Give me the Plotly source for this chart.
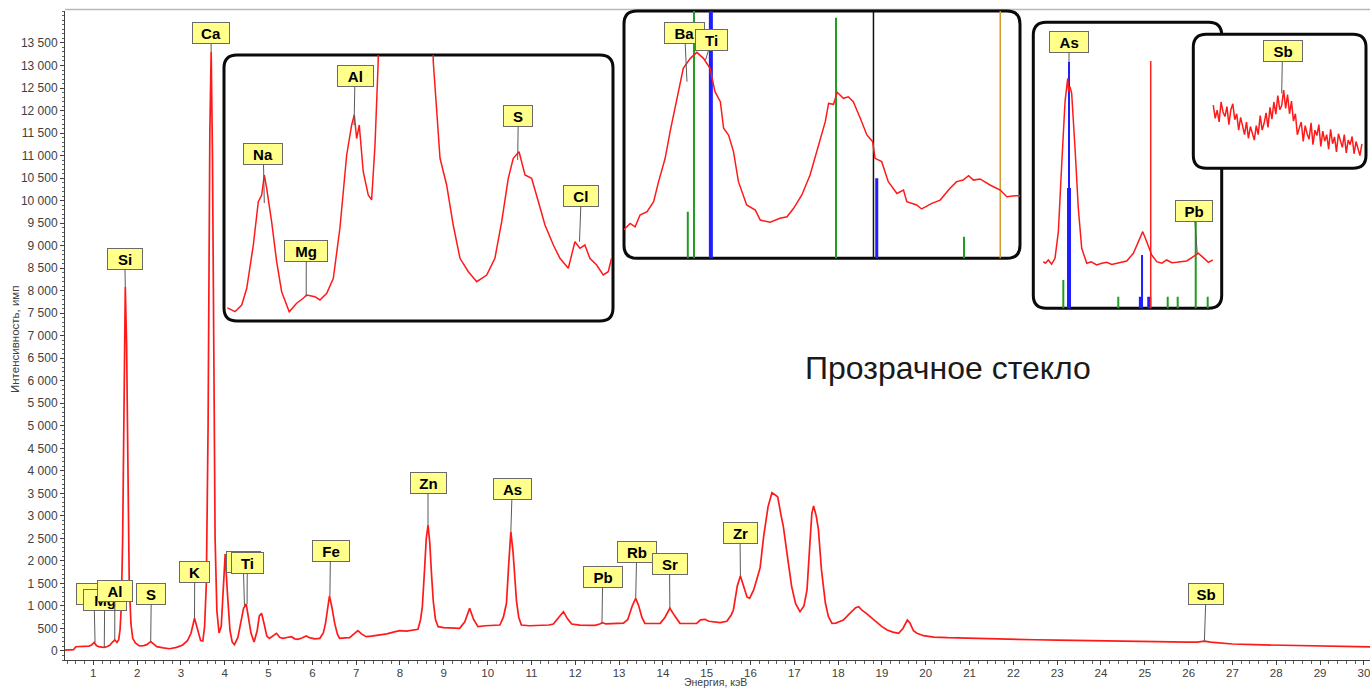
import plotly.graph_objects as go

# ---------------- DATA ----------------
MAIN_E = [0.354, 0.45, 0.55, 0.60, 0.70, 0.80, 0.90, 0.96, 1.02, 1.07, 1.12, 1.20, 1.25, 1.32, 1.38, 1.44,
          1.49, 1.54, 1.58, 1.61, 1.64, 1.67, 1.70, 1.73, 1.76, 1.79, 1.82, 1.86, 1.90, 1.96, 2.05, 2.15,
          2.22, 2.31, 2.38, 2.45, 2.60, 2.74, 2.90, 3.04, 3.15, 3.23, 3.31, 3.38, 3.45, 3.50, 3.54, 3.58,
          3.62, 3.66, 3.69, 3.72, 3.75, 3.78, 3.82, 3.87, 3.92, 3.96, 4.01, 4.06, 4.12, 4.17, 4.22, 4.30,
          4.37, 4.43, 4.49, 4.55, 4.60, 4.67, 4.74, 4.79, 4.84, 4.90, 4.96, 5.02, 5.10, 5.18, 5.26, 5.33,
          5.42, 5.52, 5.60, 5.67, 5.76, 5.86, 5.95, 6.06, 6.17, 6.25, 6.30, 6.35, 6.39, 6.44, 6.51, 6.57,
          6.62, 6.75, 6.85, 6.95, 7.04, 7.12, 7.23, 7.35, 7.54, 7.70, 7.85, 7.99, 8.15, 8.30, 8.41, 8.47,
          8.51, 8.56, 8.60, 8.64, 8.68, 8.72, 8.76, 8.81, 8.87, 9.00, 9.20, 9.36, 9.48, 9.59, 9.68, 9.78,
          9.95, 10.15, 10.28, 10.36, 10.43, 10.48, 10.53, 10.58, 10.62, 10.66, 10.71, 10.77, 10.95, 11.20,
          11.40, 11.50, 11.60, 11.73, 11.82, 11.92, 12.10, 12.30, 12.45, 12.56, 12.62, 12.70, 12.90, 13.10,
          13.20, 13.30, 13.38, 13.45, 13.52, 13.59, 13.80, 13.94, 14.05, 14.16, 14.27, 14.39, 14.60, 14.77,
          14.86, 14.96, 15.05, 15.20, 15.31, 15.46, 15.56, 15.61, 15.70, 15.77, 15.84, 15.92, 15.98, 16.07,
          16.14, 16.22, 16.30, 16.40, 16.49, 16.55, 16.62, 16.70, 16.75, 16.85, 16.94, 17.03, 17.13, 17.22,
          17.29, 17.35, 17.40, 17.44, 17.50, 17.55, 17.62, 17.71, 17.78, 17.86, 17.95, 18.05, 18.12, 18.25,
          18.40, 18.47, 18.55, 18.65, 18.73, 18.85, 19.00, 19.12, 19.25, 19.38, 19.48, 19.58, 19.64, 19.72,
          19.80, 19.95, 20.18, 20.50, 21.00, 21.50, 22.00, 22.50, 23.00, 23.50, 24.00, 24.50, 25.00, 25.50,
          26.00, 26.20, 26.36, 26.50, 26.80, 27.00, 27.50, 28.00, 28.50, 29.00, 29.50, 30.14]
MAIN_C = [20, 25, 30, 95, 100, 105, 110, 130, 193, 120, 96, 85, 81, 100, 133, 200,
          244, 190, 250, 466, 1000, 2500, 5600, 8080, 6800, 3600, 1500, 600, 281, 180, 111, 120,
          140, 207, 140, 96, 70, 50, 80, 133, 230, 393, 726, 450, 230, 220, 540, 1500,
          5000, 11500, 13300, 11000, 6000, 2500, 900, 400, 550, 1300, 2150, 1300, 450, 200, 140, 300,
          650, 950, 1043, 700, 393, 200, 450, 780, 837, 600, 330, 280, 330, 393, 300, 281,
          300, 318, 270, 259, 290, 333, 290, 270, 281, 400, 614, 1000, 1221, 1000, 614, 380,
          281, 290, 296, 380, 451, 380, 318, 330, 355, 380, 420, 451, 440, 470, 481, 700,
          984, 1800, 2500, 2797, 2400, 1700, 1100, 700, 540, 520, 510, 503, 650, 948, 700, 540,
          560, 570, 577, 750, 1059, 1900, 2649, 2200, 1500, 1100, 750, 577, 560, 570,
          577, 600, 720, 873, 720, 600, 575, 565, 570, 600, 629, 600, 605, 620,
          700, 1000, 1170, 1000, 750, 614, 610, 614, 750, 948, 780, 614, 610, 614,
          690, 704, 660, 640, 629, 660, 800, 910, 1450, 1665, 1450, 1200, 1170, 1350,
          1576, 1850, 2540, 3200, 3515, 3480, 3426, 3000, 2760, 2050, 1430, 1050, 873, 1000,
          1354, 2300, 3050, 3220, 3000, 2700, 1800, 1059, 760, 615, 620, 660, 688, 820,
          960, 984, 900, 830, 762, 650, 540, 466, 420, 393, 500, 688, 620, 450,
          393, 340, 310, 295, 280, 270, 260, 250, 240, 230, 220, 212, 205, 200,
          195, 195, 220, 195, 165, 155, 140, 130, 120, 110, 100, 90]

INS1_E = [0.855, 0.893, 0.927, 0.952, 0.985, 1.01, 1.027, 1.04, 1.052, 1.077, 1.102, 1.127, 1.165, 1.202,
          1.235, 1.252, 1.294, 1.319, 1.353, 1.386, 1.419, 1.453, 1.478, 1.491, 1.503, 1.516, 1.536, 1.561,
          1.578, 1.595, 1.611, 1.64, 1.74, 1.86, 1.887, 1.921, 1.954, 1.987, 2.021, 2.063, 2.105, 2.155,
          2.196, 2.23, 2.263, 2.288, 2.317, 2.347, 2.38, 2.414, 2.447, 2.489, 2.522, 2.564, 2.597, 2.622,
          2.647, 2.672, 2.706, 2.739, 2.764, 2.781]
INS1_C = [80, 76.8, 82.5, 96.7, 133.5, 170.3, 176, 193, 181.7, 153, 119.3, 93.8, 76.8, 84,
          88.2, 91, 89.6, 86.8, 92.4, 105.2, 147.7, 210, 235.5, 244, 224, 235.5, 195.8, 176,
          171.8, 218.5, 289.3, 1000, 8080, 1000, 289.3, 207.2, 184.5, 150.5, 122.2, 110.8, 102.3, 108,
          122.2, 153.3, 190.2, 207.2, 212.8, 193, 190.2, 170.3, 150.5, 133.5, 122.2, 113.7, 136.3, 130.7,
          133.5, 122.2, 116.5, 108, 110.8, 122.2]

INS2_E = [4.312, 4.328, 4.34, 4.352, 4.369, 4.385, 4.397, 4.413, 4.425, 4.441, 4.457, 4.474, 4.49, 4.506,
          4.522, 4.534, 4.547, 4.555, 4.567, 4.579, 4.591, 4.611, 4.632, 4.644, 4.668, 4.692, 4.709, 4.725,
          4.745, 4.765, 4.785, 4.802, 4.81, 4.822, 4.831, 4.846, 4.858, 4.87, 4.887, 4.903, 4.917, 4.923,
          4.939, 4.955, 4.976, 4.992, 5.0, 5.024, 5.036, 5.061, 5.081, 5.105, 5.121, 5.137, 5.15, 5.162,
          5.178, 5.202, 5.227, 5.243, 5.263, 5.275]
INS2_C = [243, 273, 258, 311, 326, 371, 461, 566, 686, 821, 971, 1016, 1043, 1016,
          971, 866, 821, 701, 671, 596, 461, 356, 333, 288, 278, 296, 303, 341,
          401, 491, 626, 731, 813, 809, 863, 836, 843, 821, 746, 671, 641, 566,
          551, 461, 408, 423, 371, 356, 338, 363, 378, 431, 461, 468, 488, 468,
          473, 446, 423, 393, 398, 398]

INS3_E = [10.127, 10.16, 10.207, 10.26, 10.315, 10.369, 10.423, 10.477, 10.52, 10.535, 10.557, 10.584,
          10.638, 10.691, 10.746, 10.827, 10.9, 10.988, 11.07, 11.15, 11.23, 11.31, 11.40, 11.472, 11.579,
          11.66, 11.73, 11.795, 11.875, 11.956, 12.04, 12.117, 12.2, 12.278, 12.36, 12.44, 12.546, 12.627,
          12.707, 12.788, 12.859]
INS3_C = [577, 560, 596, 548, 615, 916, 1670, 2385, 2649, 2500, 2555, 2480,
          1858, 1180, 728, 559, 575, 540, 560, 570, 545, 559, 570, 585, 672,
          803, 916, 803, 653, 577, 560, 596, 565, 570, 580, 585, 634, 672,
          622, 570, 596]

INS4_E = [25.31, 25.34, 25.37, 25.40, 25.43, 25.46, 25.49, 25.52, 25.55, 25.58, 25.61, 25.64, 25.67, 25.70,
          25.73, 25.76, 25.79, 25.82, 25.85, 25.88, 25.91, 25.94, 25.97, 26.00, 26.03, 26.06, 26.09, 26.12,
          26.15, 26.18, 26.21, 26.24, 26.27, 26.30, 26.33, 26.36, 26.39, 26.42, 26.45, 26.48, 26.51, 26.54,
          26.57, 26.60, 26.63, 26.66, 26.69, 26.72, 26.75, 26.78, 26.81, 26.84, 26.87, 26.90, 26.93, 26.96,
          26.99, 27.02, 27.05, 27.08, 27.11, 27.14, 27.17, 27.20, 27.23, 27.26, 27.29, 27.32, 27.35, 27.38,
          27.41, 27.44, 27.47, 27.50, 27.53, 27.56, 27.59]
INS4_C = [215, 186, 204, 178, 222, 200, 190, 212, 172, 205, 218, 183, 196, 160, 188, 170, 150, 178, 142, 168,
          155, 138, 170, 150, 192, 160, 175, 198, 166, 210, 184, 222, 195, 236, 205, 214, 248, 208, 238, 196,
          224, 180, 196, 150, 165, 178, 135, 170, 152, 140, 176, 128, 160, 148, 172, 124, 158, 136, 150, 118,
          162, 130, 145, 112, 152, 138, 122, 150, 110, 138, 128, 146, 108, 135, 118, 104, 130]

# emission-line markers inside insets: (energy, top intensity)
INS2_GREEN = [(4.468, 326), (4.483, 5000), (4.828, 1199), (5.139, 213)]
INS2_BLUE_THICK = [(4.524, 5000)]
INS2_BLUE = [(4.927, 476)]
INS2_BLACK = [(4.919, 5000)]
INS2_ORANGE = [(5.227, 5000)]
INS3_GREEN = [(10.449, 370), (11.336, 181), (12.133, 181), (12.294, 181), (12.585, 1161), (12.778, 181)]
INS3_BLUE = [(10.541, 2837), (11.719, 653)]
INS3_BLUE_THICK = [(10.541, 1410), (11.70, 181), (11.835, 181)]
INS3_RED = [(11.859, 2845)]

MAIN_LABELS = ["Na", "Mg", "Al", "S", "Si", "Ca", "K", "Ba", "Ti", "Fe", "Zn", "As", "Pb", "Rb", "Sr", "Zr", "Sb"]
MAIN_LABEL_E = [1.04, 1.25, 1.49, 2.31, 1.73, 3.69, 3.31, 4.45, 4.51, 6.40, 8.64, 10.53, 12.61, 13.38, 14.16, 15.77, 26.36]
MAIN_LABEL_C = [193, 81, 244, 207, 8080, 13300, 726, 1000, 1043, 1221, 2797, 2649, 629, 1170, 948, 1665, 220]
INS1_LABELS = ["Na", "Mg", "Al", "S", "Cl"]
INS1_LABEL_E = [1.04, 1.25, 1.49, 2.31, 2.62]
INS1_LABEL_C = [169.2, 89.6, 235.5, 205.8, 136.3]
INS2_LABELS = ["Ba", "Ti"]
INS2_LABEL_E = [4.466, 4.511]
INS2_LABEL_C = [911, 1008]
INS3_LABELS = ["As", "Pb"]
INS3_LABEL_E = [10.54, 12.61]
INS3_LABEL_C = [2837, 664]
INS4_LABELS = ["Sb"]
INS4_LABEL_E = [26.36]
INS4_LABEL_C = [241]

Y_TICKS = [0, 500, 1000, 1500, 2000, 2500, 3000, 3500, 4000, 4500, 5000, 5500, 6000, 6500,
           7000, 7500, 8000, 8500, 9000, 9500, 10000, 10500, 11000, 11500, 12000, 12500, 13000, 13500]
X_TICKS = list(range(1, 31))

# ---------------- LAYOUT GEOMETRY (pixels) ----------------
W, H = 1370, 688
PL, PT, PR, PB = 65, 11, 1370, 660
MAIN = dict(rect=(PL, PT, PR, PB), xr=(0.354, 30.14), yr=(-200, 14210))
INSETS = [
    dict(rect=(224, 55, 613, 321), xr=(0.838, 2.788), yr=(68.9, 295)),
    dict(rect=(624, 11, 1020, 258.3), xr=(4.313, 5.275), yr=(116, 1229)),
    dict(rect=(1033.3, 22.3, 1221.7, 308.3), xr=(9.965, 13.004), yr=(50, 3282)),
    dict(rect=(1193.3, 34.3, 1366, 168.3), xr=(25.004, 27.653), yr=(76, 371)),
]
# label box centres / widths in pixels
MAIN_BOX = [(94, 594, 36), (104.7, 599.5, 44), (114.8, 591.3, 36), (151.3, 593.8, 30), (124.8, 258.5, 36),
            (211, 33, 38), (194.7, 572, 31), (243.2, 561.5, 35), (247.3, 563, 33), (330.5, 550.5, 38),
            (428, 482.5, 37), (512.2, 488.7, 39), (602.7, 576.7, 40), (636.7, 552, 40), (669.5, 563.8, 36),
            (740, 533.2, 35), (1206, 594, 36)]
INS1_BOX = [(263.3, 154.2, 40), (306.3, 250.5, 44), (355, 76, 36.6), (518.3, 116.2, 30), (581.2, 196, 35.7)]
INS2_BOX = [(684.7, 33, 40.7), (711.7, 40, 33.3)]
INS3_BOX = [(1069.2, 42.2, 40.3), (1194.2, 211.2, 38.3)]
INS4_BOX = [(1282.5, 51, 40.4)]


def px2paper(px, py):
    return (px - PL) / (PR - PL), (PB - py) / (PB - PT)


def px2data(area, px, py):
    x0, y0, x1, y1 = area["rect"]
    xr, yr = area["xr"], area["yr"]
    return (xr[0] + (px - x0) / (x1 - x0) * (xr[1] - xr[0]),
            yr[0] + (y1 - py) / (y1 - y0) * (yr[1] - yr[0]))


RED = "#ff1a1a"
fig = go.Figure()
fig.add_trace(go.Scatter(x=MAIN_E, y=MAIN_C, mode="lines", line=dict(color=RED, width=1.7),
                         xaxis="x", yaxis="y", hoverinfo="skip"))


def vlines(pairs, axis_id, color, width):
    xs, ys = [], []
    for e, top in pairs:
        xs += [e, e, None]
        ys += [-10000, top, None]
    fig.add_trace(go.Scatter(x=xs, y=ys, mode="lines", line=dict(color=color, width=width),
                             xaxis="x" + axis_id, yaxis="y" + axis_id, hoverinfo="skip"))


GREEN, BLUE, ORANGE = "#1f9e1f", "#1e1eff", "#d49a2a"
vlines(INS2_GREEN, "3", GREEN, 2)
vlines(INS2_BLUE_THICK, "3", BLUE, 4)
vlines(INS2_BLUE, "3", BLUE, 3)
vlines(INS2_BLACK, "3", "#111111", 1.5)
vlines(INS2_ORANGE, "3", ORANGE, 1.5)
vlines(INS3_GREEN, "4", GREEN, 2)
vlines(INS3_BLUE, "4", BLUE, 2)
vlines(INS3_BLUE_THICK, "4", BLUE, 4)
vlines(INS3_RED, "4", "#ff2020", 1.5)

for k, (xs, ys) in enumerate([(INS1_E, INS1_C), (INS2_E, INS2_C), (INS3_E, INS3_C), (INS4_E, INS4_C)]):
    aid = str(k + 2)
    fig.add_trace(go.Scatter(x=xs, y=ys, mode="lines", line=dict(color=RED, width=1.5),
                             xaxis="x" + aid, yaxis="y" + aid, hoverinfo="skip"))

# axes
layout_axes = {}
for k, ins in enumerate(INSETS):
    aid = str(k + 2)
    x0, y0, x1, y1 = ins["rect"]
    dx0, dy1 = px2paper(x0, y0)
    dx1, dy0 = px2paper(x1, y1)
    layout_axes["xaxis" + aid] = dict(domain=[dx0, dx1], range=list(ins["xr"]), visible=False,
                                      anchor="y" + aid, fixedrange=True)
    layout_axes["yaxis" + aid] = dict(domain=[dy0, dy1], range=list(ins["yr"]), visible=False,
                                      anchor="x" + aid, fixedrange=True)


def rounded_path(x0, y0, x1, y1, r):
    pts = [("M", [(x0 + r, y0)]), ("L", [(x1 - r, y0)]), ("Q", [(x1, y0), (x1, y0 + r)]),
           ("L", [(x1, y1 - r)]), ("Q", [(x1, y1), (x1 - r, y1)]), ("L", [(x0 + r, y1)]),
           ("Q", [(x0, y1), (x0, y1 - r)]), ("L", [(x0, y0 + r)]), ("Q", [(x0, y0), (x0 + r, y0)])]
    s = ""
    for cmd, ps in pts:
        s += cmd + " " + " ".join("%.5f,%.5f" % px2paper(px, py) for px, py in ps) + " "
    return s + "Z"


shapes = []
# top light border of plot area
tx0, ty = px2paper(PL, 9.5)
shapes.append(dict(type="line", xref="paper", yref="paper", x0=0, x1=1, y0=ty, y1=ty,
                   line=dict(color="#b8b8b8", width=1.5), layer="below"))
for ins in INSETS:
    x0, y0, x1, y1 = ins["rect"]
    shapes.append(dict(type="path", xref="paper", yref="paper", path=rounded_path(x0, y0, x1, y1, 13),
                       fillcolor="white", line=dict(color="#0a0a0a", width=3), layer="below"))

annotations = []
LABEL_FONT = dict(family="Liberation Sans, Arial", size=15, color="#000000")


def add_labels(names, es, cs, boxes, area, ref):
    for name, e, c, (bx, by, bw) in zip(names, es, cs, boxes):
        ax, ay = px2data(area, bx, by)
        annotations.append(dict(
            text="<b>%s</b>" % name, x=e, y=c, xref="x" + ref, yref="y" + ref,
            axref="x" + ref, ayref="y" + ref, ax=ax, ay=ay,
            showarrow=True, arrowhead=0, arrowwidth=1, arrowcolor="#5a5a5a", standoff=0,
            bgcolor="#ffff8a", bordercolor="#6a6a6a", borderwidth=1, borderpad=1,
            width=bw - 4, height=18, font=LABEL_FONT, align="center", valign="middle"))


add_labels(MAIN_LABELS, MAIN_LABEL_E, MAIN_LABEL_C, MAIN_BOX, MAIN, "")
add_labels(INS1_LABELS, INS1_LABEL_E, INS1_LABEL_C, INS1_BOX, INSETS[0], "2")
add_labels(INS2_LABELS, INS2_LABEL_E, INS2_LABEL_C, INS2_BOX, INSETS[1], "3")
add_labels(INS3_LABELS, INS3_LABEL_E, INS3_LABEL_C, INS3_BOX, INSETS[2], "4")
add_labels(INS4_LABELS, INS4_LABEL_E, INS4_LABEL_C, INS4_BOX, INSETS[3], "5")

# axis titles and caption
yx, yy = px2paper(15, 339)
annotations.append(dict(text="Интенсивность, имп", xref="paper", yref="paper", x=yx, y=yy,
                        textangle=-90, showarrow=False, xanchor="center", yanchor="middle",
                        font=dict(family="Liberation Sans, Arial", size=11.5, color="#404040")))
xx, xy = px2paper(715, 682)
annotations.append(dict(text="Энергия, кэВ", xref="paper", yref="paper", x=xx, y=xy,
                        showarrow=False, xanchor="center", yanchor="middle",
                        font=dict(family="Liberation Sans, Arial", size=10.5, color="#404040")))
cx, cy = px2paper(948, 368)
annotations.append(dict(text="Прозрачное стекло", xref="paper", yref="paper", x=cx, y=cy,
                        showarrow=False, xanchor="center", yanchor="middle",
                        font=dict(family="Liberation Sans, Arial", size=32, color="#1a1a1a")))

fig.update_layout(
    width=W, height=H,
    margin=dict(l=PL, r=W - PR, t=PT, b=H - PB, pad=0),
    paper_bgcolor="white", plot_bgcolor="rgba(0,0,0,0)",
    showlegend=False, hovermode=False, separators=", ",
    font=dict(family="Liberation Sans, Arial", size=12, color="#404040"),
    xaxis=dict(domain=[0, 1], range=list(MAIN["xr"]), anchor="y", tickmode="array", tickvals=X_TICKS,
               ticks="outside", ticklen=4, tickcolor="#404040", showgrid=False, zeroline=False,
               showline=True, linecolor="#404040", linewidth=1, tickfont=dict(size=11.5, color="#404040"),
               ticklabeloverflow="allow", ticklabelstandoff=-2,
               minor=dict(dtick=0.2, tick0=0, ticks="outside", ticklen=3, tickcolor="#606060"),
               fixedrange=True),
    yaxis=dict(domain=[0, 1], range=list(MAIN["yr"]), anchor="x", tickmode="array", tickvals=Y_TICKS,
               tickformat=",d",
               ticks="outside", ticklen=4, tickcolor="#404040", showgrid=False, zeroline=False,
               showline=True, linecolor="#404040", linewidth=1, tickfont=dict(size=12, color="#404040"),
               minor=dict(dtick=100, tick0=0, ticks="outside", ticklen=2, tickcolor="#606060"),
               fixedrange=True),
    shapes=shapes, annotations=annotations,
    **layout_axes,
)

fig.write_html("out.html")
